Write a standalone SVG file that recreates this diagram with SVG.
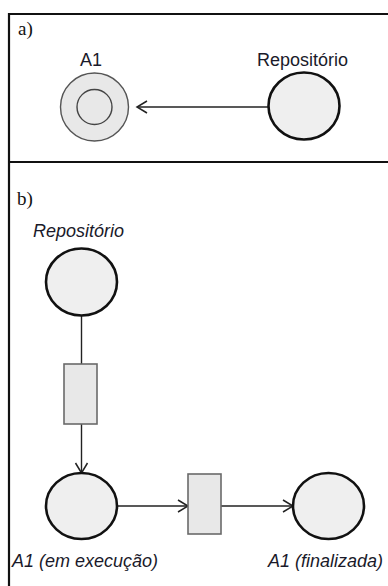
<svg xmlns="http://www.w3.org/2000/svg" width="388" height="586" viewBox="0 0 388 586">
<defs>
<style>
.place{fill:#efefef;stroke:#111;stroke-width:2.6}
.trans{fill:#e8e8e8;stroke:#6a6a6a;stroke-width:1.6}
.edge{fill:none;stroke:#222;stroke-width:1.4}
.lbl{font-family:"Liberation Sans",Arial,sans-serif;font-size:18px;fill:#1a1a2a}
.it{font-style:italic}
.sec{font-family:"Liberation Serif","Times New Roman",serif;font-size:19px;fill:#111}
.frame{fill:none;stroke:#111;stroke-width:2.2}
</style>
<marker id="arr" markerUnits="userSpaceOnUse" markerWidth="14" markerHeight="16" refX="11" refY="7" orient="auto">
<path d="M1,1 L11,7 L1,13" fill="none" stroke="#222" stroke-width="1.5"/>
</marker>
</defs>
<g id="frame">
<path class="frame" d="M9,586 V14 H388"/>
<line class="frame" x1="9" y1="162" x2="388" y2="162"/>
</g>
<g id="section-a-label"><text class="sec" x="18" y="35">a)</text></g>
<g id="section-b-label"><text class="sec" x="17" y="205">b)</text></g>
<g id="connectors">
<line class="edge" x1="268" y1="107" x2="137" y2="107" marker-end="url(#arr)"/>
<line class="edge" x1="81.5" y1="316" x2="81.5" y2="364"/>
<line class="edge" x1="81.5" y1="424" x2="81.5" y2="473" marker-end="url(#arr)"/>
<line class="edge" x1="117" y1="506" x2="188" y2="506" marker-end="url(#arr)"/>
<line class="edge" x1="221" y1="506" x2="293" y2="506" marker-end="url(#arr)"/>
</g>
<g id="a-A1">
<circle cx="94.5" cy="107" r="34" fill="#e8e8e8" stroke="#555" stroke-width="1.4"/>
<circle cx="94.5" cy="107" r="17.5" fill="#e8e8e8" stroke="#444" stroke-width="1.4"/>
<text class="lbl" x="91" y="66" text-anchor="middle">A1</text>
</g>
<g id="a-repositorio">
<ellipse class="place" cx="304" cy="106" rx="35.5" ry="33.5"/>
<text class="lbl" x="302.5" y="66" text-anchor="middle">Repositório</text>
</g>
<g id="b-repositorio">
<ellipse class="place" cx="81.5" cy="282" rx="35.5" ry="33.5"/>
<text class="lbl it" x="33" y="237">Repositório</text>
</g>
<g id="b-t1">
<rect class="trans" x="64" y="364" width="33" height="60"/>
</g>
<g id="b-A1-exec">
<ellipse class="place" cx="81.5" cy="506" rx="35.5" ry="33"/>
<text class="lbl it" x="12" y="567">A1 (em execução)</text>
</g>
<g id="b-t2">
<rect class="trans" x="188" y="474" width="33" height="60"/>
</g>
<g id="b-A1-fin">
<ellipse class="place" cx="328.5" cy="506" rx="35.5" ry="33"/>
<text class="lbl it" x="383" y="567" text-anchor="end">A1 (finalizada)</text>
</g>
</svg>
